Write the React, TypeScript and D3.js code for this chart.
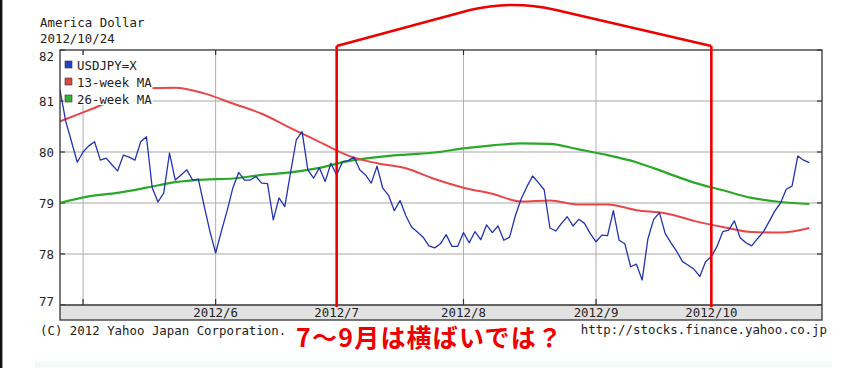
import React from "react";
import * as d3 from "d3";

// ---- data ----
const startDate = new Date(2012, 3, 25);
const endDate = new Date(2012, 9, 24);

// USDJPY=X daily close, one value per trading day (Apr 25 .. Oct 24, 2012)
const usdjpy: number[] = [
  81.22, 80.6, 80.2, 79.8, 80.0, 80.12, 80.2, 79.84, 79.88, 79.75,
  79.63, 79.94, 79.9, 79.84, 80.2, 80.3, 79.3, 79.02, 79.2, 79.98,
  79.45, 79.55, 79.65, 79.45, 79.47, 78.95, 78.45, 78.02, 78.45, 78.85,
  79.3, 79.6, 79.45, 79.45, 79.52, 79.39, 79.38, 78.67, 79.1, 78.93,
  79.6, 80.24, 80.4, 79.65, 79.49, 79.69, 79.42, 79.78, 79.55, 79.81,
  79.83, 79.9, 79.65, 79.55, 79.39, 79.72, 79.29, 79.15, 78.85, 79.05,
  78.75, 78.53, 78.43, 78.33, 78.16, 78.12, 78.2, 78.38, 78.15, 78.15,
  78.42, 78.22, 78.44, 78.28, 78.57, 78.42, 78.55, 78.27, 78.33, 78.75,
  79.08, 79.32, 79.53, 79.4, 79.26, 78.51, 78.45, 78.6, 78.73, 78.55,
  78.68, 78.6, 78.4, 78.24, 78.37, 78.36, 78.85, 78.27, 78.2, 77.75,
  77.8, 77.49, 78.3, 78.68, 78.81, 78.4, 78.22, 78.05, 77.85, 77.78,
  77.7, 77.56, 77.85, 77.95, 78.15, 78.44, 78.47, 78.65, 78.32, 78.22,
  78.16, 78.3, 78.43, 78.63, 78.84, 79.0, 79.27, 79.33, 79.92, 79.84,
  79.79,
];

// moving averages, sampled every 5 trading days
const maStep = 5;
const ma13: number[] = [
  80.6, 80.82, 81.05, 81.25, 81.26, 81.15, 80.95, 80.75, 80.47, 80.2,
  79.93, 79.78, 79.68, 79.47, 79.3, 79.18, 79.03, 79.05, 78.97, 78.97,
  78.86, 78.8, 78.65, 78.53, 78.43, 78.42, 78.51,
];
const ma26: number[] = [
  79.0, 79.13, 79.2, 79.3, 79.41, 79.46, 79.48, 79.55, 79.6, 79.69,
  79.82, 79.9, 79.95, 79.99, 80.07, 80.13, 80.17, 80.16, 80.05, 79.94,
  79.8, 79.6, 79.4, 79.25, 79.1, 79.02, 78.98,
];

const yTicks = [77, 78, 79, 80, 81, 82];
const monthTicks = [4, 5, 6, 7, 8, 9]; // May..Oct (0-based month)
const labelledMonths = [5, 6, 7, 8, 9];
const seriesNames = ["USDJPY=X", "13-week MA", "26-week MA"];
const seriesColors = ["#2233b0", "#e8474a", "#2aa82a"];
const legendFill = ["#2244cc", "#e04444", "#33b033"];

const annotStartMonth = 6; // July
const annotEndMonth = 9; // October
const annotText = "7～9月は横ばいでは？";

// ---- helpers ----
const tradingDays = d3.timeDay
  .range(startDate, d3.timeDay.offset(endDate, 1))
  .filter((d) => d.getDay() !== 0 && d.getDay() !== 6);

function firstIndexOfMonth(m: number) {
  return tradingDays.findIndex((d) => d.getMonth() === m);
}

const mono = "'DejaVu Sans Mono', monospace";

export default function App() {
  const W = 849;
  const H = 368;
  const L = 60, R = 822, T = 50, B = 305, BAND = 320;

  const x = d3.scaleLinear().domain([0, 132.2]).range([L, R]);
  const y = d3.scaleLinear().domain([77, 82]).range([B, T]);

  const lineDaily = d3
    .line<number>()
    .x((_, i) => x(i))
    .y((d) => y(d));
  const lineMA = d3
    .line<number>()
    .x((_, i) => x(i * maStep))
    .y((d) => y(d))
    .curve(d3.curveMonotoneX);

  const monthX = monthTicks.map((m) => x(firstIndexOfMonth(m)));
  const fmt = d3.timeFormat("%Y/");

  const xa = x(firstIndexOfMonth(annotStartMonth));
  const xb = x(firstIndexOfMonth(annotEndMonth));
  const arc = `M${xa},46 L470,10 Q513,0 556,10 L${xb},46`;

  return (
    <svg
      width={W}
      height={H}
      style={{ position: "absolute", left: 0, top: 0, background: "#fff" }}
    >
      <rect x={0} y={0} width={W} height={H} fill="#fff" />
      <rect x={35} y={361} width={797} height={7} fill="#f2fafa" />
      <line x1={1.2} y1={0} x2={1.2} y2={H} stroke="#111" strokeWidth={2.4} />

      <text x={40} y={27} fontFamily={mono} fontSize={12.4} fill="#222">
        America Dollar
      </text>
      <text x={40} y={43} fontFamily={mono} fontSize={12.4} fill="#222">
        2012/10/24
      </text>

      <defs>
        <clipPath id="plot">
          <rect x={L} y={T} width={R - L} height={B - T} />
        </clipPath>
      </defs>

      {/* grid */}
      {yTicks
        .filter((v) => v > 77 && v < 82)
        .map((v) => (
          <line key={v} x1={L} x2={R} y1={y(v)} y2={y(v)} stroke="#a8a8a8" strokeWidth={1.2} />
        ))}
      {monthX.map((mx, i) => (
        <line key={i} x1={mx} x2={mx} y1={T} y2={B} stroke="#b0b0b0" strokeWidth={1} />
      ))}
      {/* ticks */}
      {yTicks.map((v) => (
        <g key={v}>
          <line x1={L} x2={L + 5} y1={y(v)} y2={y(v)} stroke="#333" strokeWidth={1.2} />
          <line x1={R - 5} x2={R} y1={y(v)} y2={y(v)} stroke="#333" strokeWidth={1.2} />
        </g>
      ))}
      {monthX.map((mx, i) => (
        <g key={i}>
          <line x1={mx} x2={mx} y1={T} y2={T + 5} stroke="#333" strokeWidth={1.2} />
          <line x1={mx} x2={mx} y1={B - 6} y2={B} stroke="#333" strokeWidth={1.2} />
        </g>
      ))}

      {/* series */}
      <g clipPath="url(#plot)" fill="none" strokeLinejoin="round">
        <path d={lineMA(ma26) || ""} stroke={seriesColors[2]} strokeWidth={2.2} />
        <path d={lineMA(ma13) || ""} stroke={seriesColors[1]} strokeWidth={2} />
        <path d={lineDaily(usdjpy) || ""} stroke={seriesColors[0]} strokeWidth={1.3} />
      </g>

      {/* legend */}
      <rect x={63.5} y={55} width={89} height={50} fill="#fff" />
      {seriesNames.map((n, i) => (
        <g key={n}>
          <rect
            x={65}
            y={61 + i * 17}
            width={7}
            height={7}
            fill={legendFill[i]}
            stroke="#333"
            strokeWidth={0.6}
          />
          <text x={77} y={70 + i * 17} fontFamily={mono} fontSize={12.4} fill="#222">
            {n}
          </text>
        </g>
      ))}

      {/* frame and band */}
      <rect x={L} y={B} width={R - L} height={BAND - B} fill="#e2e2e2" />
      <rect x={L} y={T} width={R - L} height={BAND - T} fill="none" stroke="#333" strokeWidth={1.3} />
      <line x1={L} x2={R} y1={B} y2={B} stroke="#333" strokeWidth={1.3} />

      {/* y labels */}
      {yTicks.map((v) => (
        <text
          key={v}
          x={54}
          y={Math.max(56, Math.min(301.5, y(v))) + 4.5}
          textAnchor="end"
          fontFamily={mono}
          fontSize={12.4}
          fill="#222"
        >
          {v}
        </text>
      ))}
      {/* x labels */}
      {labelledMonths.map((m) => {
        const idx = firstIndexOfMonth(m);
        return (
          <text
            key={m}
            x={x(idx)}
            y={317}
            textAnchor="middle"
            fontFamily={mono}
            fontSize={12.4}
            fill="#222"
          >
            {fmt(tradingDays[idx]) + (m + 1)}
          </text>
        );
      })}

      <text x={40} y={335} fontFamily={mono} fontSize={12.4} fill="#222">
        (C) 2012 Yahoo Japan Corporation.
      </text>
      <text x={827} y={334} textAnchor="end" fontFamily={mono} fontSize={12.4} fill="#222">
        http://stocks.finance.yahoo.co.jp
      </text>

      {/* annotation */}
      <g stroke="#ee0000" strokeWidth={2.6} fill="none">
        <line x1={xa} x2={xa} y1={46} y2={307} />
        <line x1={xb} x2={xb} y1={46} y2={307} />
        <path d={arc} strokeLinejoin="round" />
      </g>
      <text
        x={296}
        y={347}
        fontFamily="'Noto Sans CJK JP', sans-serif"
        fontWeight="bold"
        fontSize={25}
        fill="#ee0000"
        textLength={266}
        lengthAdjust="spacing"
      >
        {annotText}
      </text>
    </svg>
  );
}
